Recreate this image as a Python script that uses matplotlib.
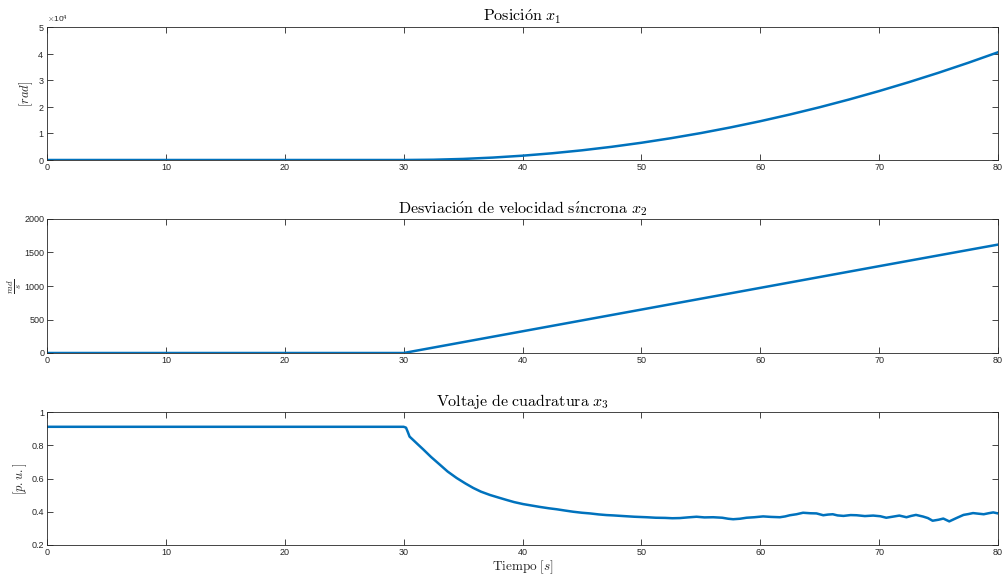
import matplotlib
matplotlib.use("Agg")
import matplotlib.pyplot as plt
from matplotlib.ticker import FuncFormatter, ScalarFormatter

plt.rcParams['mathtext.fontset'] = 'cm'
plt.rcParams['font.family'] = ['Liberation Sans', 'DejaVu Sans']

# ---- data ----
t1 = [0, 10, 20, 30, 32.5, 35, 37.5, 40, 42.5, 45, 47.5, 50, 52.5, 55, 57.5,
      60, 62.5, 65, 67.5, 70, 72.5, 75, 77.5, 80]
x1 = [0, 0, 0, 0, 100, 400, 910, 1620, 2530, 3640, 4960, 6480, 8200, 10120, 12250,
      14580, 17110, 19840, 22780, 25920, 29260, 32800, 36550, 40500]

t2 = [0, 10, 20, 30, 40, 50, 60, 70, 80]
x2 = [0, 0, 0, 0, 324, 648, 972, 1296, 1618]

t3 = [0, 10, 20, 30, 30.2, 30.35, 30.5, 30.8, 31.2, 31.65, 32.3, 33.05, 33.7, 34.46, 35.2,
      35.86, 36.5, 37.26, 38.0, 38.66, 39.3, 40.06, 40.8, 41.46, 42.2, 42.87, 43.6,
      44.27, 45.0, 45.67, 46.4, 47.07, 47.63, 48.5, 49.4, 50.44, 51.2, 52.0, 52.6,
      53.24, 53.9, 54.64, 55.3, 56.04, 56.8, 57.3, 57.72, 58.3, 58.85, 59.5, 60.24,
      60.9, 61.65, 62.1, 62.49, 63.05, 63.6, 64.2, 64.73, 65.3, 65.7, 66.1, 66.5,
      67.0, 67.6, 68.1, 68.8, 69.5, 70.1, 70.6, 71.2, 71.7, 72.3, 72.7, 73.1, 73.7,
      74.1, 74.5, 75.0, 75.4, 75.9, 76.5, 77.1, 77.5, 77.9, 78.4, 78.8, 79.2, 79.6, 80]
x3 = [0.911, 0.911, 0.911, 0.911, 0.906, 0.880, 0.852, 0.832, 0.805, 0.775, 0.730, 0.683,
      0.642, 0.603, 0.570, 0.543, 0.521, 0.501, 0.485, 0.471, 0.458, 0.446, 0.437,
      0.429, 0.421, 0.415, 0.407, 0.400, 0.394, 0.390, 0.384, 0.380, 0.378, 0.374,
      0.370, 0.367, 0.364, 0.363, 0.361, 0.362, 0.366, 0.370, 0.366, 0.367, 0.364,
      0.358, 0.355, 0.358, 0.364, 0.367, 0.372, 0.369, 0.367, 0.372, 0.379, 0.385,
      0.394, 0.391, 0.390, 0.379, 0.383, 0.385, 0.378, 0.375, 0.380, 0.379, 0.374,
      0.377, 0.373, 0.364, 0.371, 0.377, 0.367, 0.375, 0.381, 0.371, 0.362, 0.346,
      0.352, 0.359, 0.342, 0.362, 0.381, 0.386, 0.392, 0.388, 0.385, 0.391, 0.396, 0.390]

xticks = [0, 10, 20, 30, 40, 50, 60, 70, 80]
yticks1 = [0, 10000, 20000, 30000, 40000, 50000]
yticks2 = [0, 500, 1000, 1500, 2000]
yticks3 = [0.2, 0.4, 0.6, 0.8, 1.0]

titles = [r'$\mathrm{Posici\acute{o}n}\ x_1$',
          r'$\mathrm{Desviaci\acute{o}n\ de\ velocidad\ s\acute{\imath}ncrona}\ x_2$',
          r'$\mathrm{Voltaje\ de\ cuadratura}\ x_3$']
ylabels = [r'$[rad]$', r'$\frac{rad}{s}$', r'$[p.u.]$']

# ---- figure ----
fig = plt.figure(figsize=(10.08, 5.75), dpi=100)
W, H = 1008, 575
left, right = 47, 998
rows = [(27, 160), (219, 353), (412, 545)]
axes = []
for (top, bot) in rows:
    ax = fig.add_axes([left / W, 1 - bot / H, (right - left) / W, (bot - top) / H])
    axes.append(ax)

col = '#0072BD'
edge = '#262626'
data = [(t1, x1, yticks1, (0, 50000)), (t2, x2, yticks2, (0, 2000)),
        (t3, x3, yticks3, (0.2, 1.0))]
for i, ax in enumerate(axes):
    t, y, yt, ylim = data[i]
    ax.plot(t, y, color=col, lw=1.8, solid_joinstyle='round')
    ax.set_xlim(0, 80)
    ax.set_ylim(*ylim)
    ax.set_xticks(xticks)
    ax.set_yticks(yt)
    ax.tick_params(direction='in', top=True, right=True, length=4.5, width=0.6,
                   labelsize=6.5, colors=edge, labelcolor='#262626', pad=2)
    for s in ax.spines.values():
        s.set_color(edge)
        s.set_linewidth(0.6)
    ax.set_title(titles[i], fontsize=11.5, pad=4, color='#000000')
    ax.xaxis.set_major_formatter(FuncFormatter(lambda v, p: '%g' % v))

# top: scientific offset
sf = ScalarFormatter(useMathText=True)
sf.set_powerlimits((0, 0))
axes[0].yaxis.set_major_formatter(sf)
axes[0].yaxis.get_offset_text().set_fontsize(6)
axes[0].yaxis.get_offset_text().set_color('#262626')
axes[1].yaxis.set_major_formatter(FuncFormatter(lambda v, p: '%g' % v))
axes[2].yaxis.set_major_formatter(FuncFormatter(lambda v, p: '%g' % v))

axes[0].set_ylabel(ylabels[0], fontsize=9, labelpad=2, color='#262626')
axes[1].set_ylabel(ylabels[1], fontsize=9, labelpad=0, color='#262626')
axes[2].set_ylabel(ylabels[2], fontsize=9, labelpad=2, color='#262626')
axes[2].set_xlabel(r'$\mathrm{Tiempo}\ [s]$', fontsize=9.5, labelpad=1, color='#262626')

fig.savefig('out.png', dpi=100)
